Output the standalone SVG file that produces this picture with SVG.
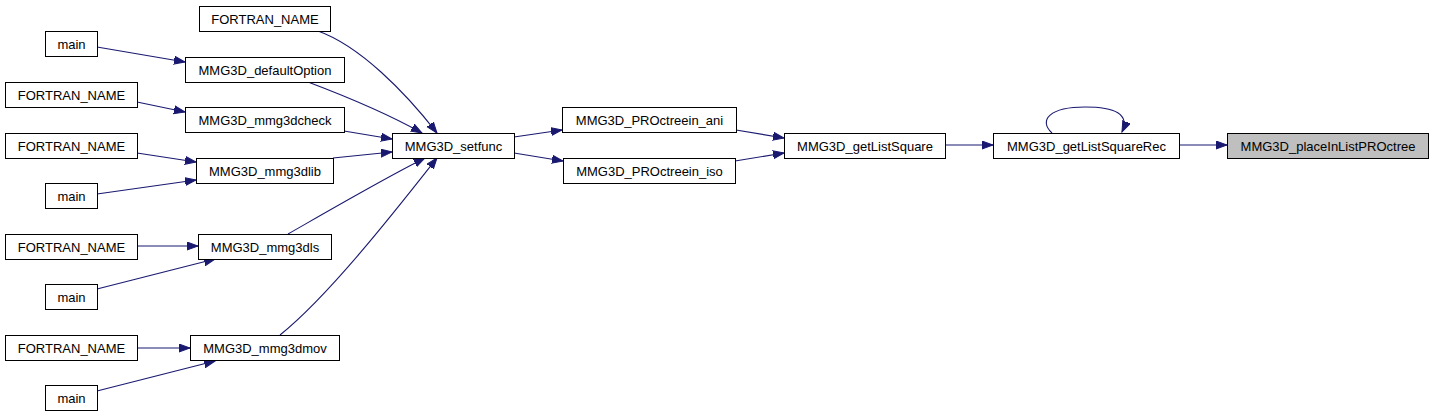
<svg xmlns="http://www.w3.org/2000/svg" width="1433" height="417" viewBox="0 0 1433 417">
<style>
.n rect{fill:#fff;stroke:#000;stroke-width:1}
.n.h rect{fill:#bfbfbf}
.n text{font-family:"Liberation Sans",Arial,sans-serif;font-size:13px;fill:#000;text-anchor:middle}
.e path{fill:none;stroke:#191970;stroke-width:1.1;marker-end:url(#a)}
</style>
<defs>
<marker id="a" markerUnits="userSpaceOnUse" markerWidth="13" markerHeight="10" refX="11" refY="4.5" orient="auto">
<path d="M0,0.5 L11,4.5 L0,8.5 z" fill="#191970" stroke="#191970" stroke-width="1"/>
</marker>
</defs>
<rect width="1433" height="417" fill="#fff"/>
<g id="edges" class="e">
<path d="M318,31 C360,46 405,92 437,133"/>
<path d="M308,82 C345,96 390,115 422,133"/>
<path d="M344,131 L392,139"/>
<path d="M333,158 L392,152"/>
<path d="M288,234 C330,210 385,178 425,158"/>
<path d="M280,335 C330,295 400,205 437,158"/>
<path d="M97,47 L185,62"/>
<path d="M137,102 L185,112"/>
<path d="M137,153 L196,162"/>
<path d="M97,194 L196,180"/>
<path d="M137,246 L198,246"/>
<path d="M97,289 L215,259"/>
<path d="M137,348 L190,348"/>
<path d="M97,391 L215,361"/>
<path d="M514,137 L562,130"/>
<path d="M514,153 L563,161"/>
<path d="M736,130 L784,138"/>
<path d="M735,161 L784,153"/>
<path d="M945,145 L993,145"/>
<path d="M1052,133 C1038,120 1050,107 1085,107 C1115,107 1130,114 1122,132"/>
<path d="M1179,145 L1227,145"/>
</g>
<g id="n1" class="n"><rect x="199.5" y="6.5" width="131" height="25"/><text x="265" y="23.5">FORTRAN_NAME</text></g>
<g id="n2" class="n"><rect x="45.5" y="31.5" width="52" height="25"/><text x="71.5" y="48.5">main</text></g>
<g id="n3" class="n"><rect x="185.5" y="57.5" width="159" height="25"/><text x="265" y="74.5">MMG3D_defaultOption</text></g>
<g id="n4" class="n"><rect x="5.5" y="82.5" width="132" height="25"/><text x="71.5" y="99.5">FORTRAN_NAME</text></g>
<g id="n5" class="n"><rect x="185.5" y="107.5" width="159" height="25"/><text x="265" y="124.5">MMG3D_mmg3dcheck</text></g>
<g id="n6" class="n"><rect x="5.5" y="133.5" width="132" height="25"/><text x="71.5" y="150.5">FORTRAN_NAME</text></g>
<g id="n7" class="n"><rect x="196.5" y="158.5" width="137" height="25"/><text x="265" y="175.5">MMG3D_mmg3dlib</text></g>
<g id="n8" class="n"><rect x="45.5" y="183.5" width="52" height="25"/><text x="71.5" y="200.5">main</text></g>
<g id="n9" class="n"><rect x="5.5" y="234.5" width="132" height="25"/><text x="71.5" y="251.5">FORTRAN_NAME</text></g>
<g id="n10" class="n"><rect x="198.5" y="234.5" width="133" height="25"/><text x="265" y="251.5">MMG3D_mmg3dls</text></g>
<g id="n11" class="n"><rect x="45.5" y="284.5" width="52" height="25"/><text x="71.5" y="301.5">main</text></g>
<g id="n12" class="n"><rect x="5.5" y="335.5" width="132" height="25"/><text x="71.5" y="352.5">FORTRAN_NAME</text></g>
<g id="n13" class="n"><rect x="190.5" y="335.5" width="149" height="25"/><text x="265" y="352.5">MMG3D_mmg3dmov</text></g>
<g id="n14" class="n"><rect x="45.5" y="385.5" width="52" height="25"/><text x="71.5" y="402.5">main</text></g>
<g id="n15" class="n"><rect x="392.5" y="133.5" width="122" height="25"/><text x="453.5" y="150.5">MMG3D_setfunc</text></g>
<g id="n16" class="n"><rect x="562.5" y="107.5" width="174" height="25"/><text x="649.5" y="124.5">MMG3D_PROctreein_ani</text></g>
<g id="n17" class="n"><rect x="563.5" y="158.5" width="172" height="25"/><text x="649.5" y="175.5">MMG3D_PROctreein_iso</text></g>
<g id="n18" class="n"><rect x="784.5" y="133.5" width="161" height="25"/><text x="865" y="150.5">MMG3D_getListSquare</text></g>
<g id="n19" class="n"><rect x="993.5" y="133.5" width="186" height="25"/><text x="1086.5" y="150.5">MMG3D_getListSquareRec</text></g>
<g id="n20" class="n h"><rect x="1227.5" y="133.5" width="201" height="25"/><text x="1328" y="150.5">MMG3D_placeInListPROctree</text></g>
</svg>
